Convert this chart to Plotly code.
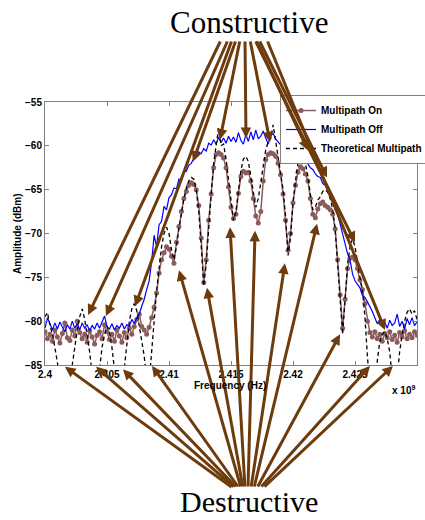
import numpy as np
import plotly.graph_objects as go

# ---------------- data ----------------
F_START_GHZ = 2.4
F_STEP_GHZ = 0.0002
N_POINTS = 151
freq_ghz = np.round(F_START_GHZ + F_STEP_GHZ * np.arange(N_POINTS), 4)

multipath_off = [
    -80.8, -79.6, -80.3, -81.0, -80.2, -80.9, -80.1, -80.7, -81.2, -80.4,
    -80.9, -80.0, -80.8, -80.3, -81.0, -80.2, -80.8, -80.4, -81.1, -80.5,
    -80.9, -80.2, -80.8, -80.1, -79.4, -80.6, -80.9, -80.3, -81.0, -80.5,
    -80.8, -80.2, -80.9, -80.4, -80.6, -79.8, -80.3, -79.6, -79.2, -78.3,
    -77.5, -76.4, -75.4, -73.2, -70.2, -71.5, -69.0, -68.6, -66.9, -67.3,
    -65.9, -65.6, -64.8, -64.9, -63.8, -63.9, -63.0, -62.9, -62.2, -62.0,
    -61.4, -61.3, -60.7, -60.9, -60.3, -60.6, -59.7, -59.9, -59.3, -59.8,
    -59.0, -59.6, -59.1, -59.7, -58.9, -59.5, -59.0, -59.6, -58.5, -59.4,
    -59.8, -58.7, -59.5, -58.4, -59.3, -58.2, -59.2, -58.9, -58.3, -59.1,
    -59.8, -58.8, -58.6, -59.2, -59.5, -59.9, -59.6, -60.2, -60.5, -60.3,
    -60.9, -61.3, -60.9, -61.5, -62.0, -61.6, -62.1, -62.5, -62.7, -63.2,
    -63.5, -63.6, -64.3, -64.5, -65.0, -66.0, -65.9, -67.2, -67.8, -68.9,
    -70.1, -71.0, -72.3, -73.0, -74.6, -75.4, -75.8, -76.2, -77.1, -77.3,
    -77.8, -78.3, -78.9, -79.6, -80.3, -79.8, -80.6, -80.1, -80.8, -79.9,
    -80.5, -80.2, -79.2, -80.6, -80.0, -80.9, -79.7, -80.4, -79.6, -80.5,
    -80.1,
]

theoretical = [
    -79.5, -79.0, -80.5, -81.5, -83.0, -84.5, -86.5, -88.5, -90.0, -89.0,
    -87.0, -84.5, -82.5, -81.0, -79.5, -78.6, -79.8, -81.5, -83.5, -86.0,
    -89.0, -88.0, -85.5, -83.0, -81.5, -80.6, -81.3, -83.0, -85.5, -88.0,
    -90.0, -88.0, -85.5, -82.5, -80.0, -78.6, -78.0, -78.8, -80.5, -82.5,
    -84.0, -86.5, -87.0, -83.5, -79.5, -76.5, -74.0, -71.5, -70.0, -69.3,
    -70.0, -71.8, -73.0, -71.5, -69.5, -67.5, -66.0, -64.8, -64.0, -63.6,
    -63.8, -65.0, -67.5, -71.5, -76.0, -73.5, -69.0, -65.5, -62.0, -60.0,
    -58.0, -60.0, -59.8, -61.5, -64.0, -66.5, -68.5, -67.5, -65.0, -62.8,
    -61.5, -61.2, -61.8, -63.5, -65.5, -67.0, -66.0, -64.0, -62.0, -60.5,
    -59.5, -59.2, -57.6, -59.5, -61.0, -62.8, -65.0, -68.0, -72.5, -70.5,
    -66.5, -64.0, -62.0, -61.0, -60.8, -62.0, -63.5, -65.5, -67.3, -67.0,
    -66.2, -65.8, -65.2, -65.0, -65.3, -66.0, -67.2, -69.5, -73.0, -77.5,
    -81.5, -77.5, -73.5, -71.5, -70.6, -71.5, -73.5, -75.0, -76.5, -79.5,
    -84.0, -87.5, -88.5, -87.0, -84.5, -82.3, -81.5, -81.2, -82.0, -83.5,
    -86.5, -89.0, -86.5, -83.5, -81.5, -80.0, -79.0, -78.6, -79.2, -78.8,
    -79.8,
]

multipath_on = [
    -81.2, -82.0, -81.5, -82.3, -81.0, -81.8, -82.5, -81.4, -80.2, -81.9,
    -82.2, -81.0, -81.7, -80.0, -81.3, -82.0, -81.5, -82.4, -81.1, -81.8,
    -82.6, -81.6, -81.2, -82.0, -80.4, -81.2, -82.1, -81.5, -82.3, -81.0,
    -81.7, -82.4, -81.3, -81.9, -80.8, -81.5, -80.6, -79.8, -79.2, -80.6,
    -81.0, -81.5, -80.7, -79.6, -78.4, -76.8, -74.5, -73.0, -72.2, -71.5,
    -71.8, -72.6, -73.4, -71.0, -69.2, -67.5, -66.0, -65.2, -64.5, -64.2,
    -64.4, -65.0, -66.8, -70.5, -75.6, -73.0, -68.5, -65.5, -62.5, -61.0,
    -60.8, -61.0, -61.4, -62.5, -64.7, -67.0, -68.3, -67.8, -65.4, -63.5,
    -62.9, -63.1, -63.0, -64.0, -66.0, -68.0, -68.8, -67.5, -64.0, -61.6,
    -61.0, -60.8, -60.9, -61.2, -62.0, -63.3, -65.5, -68.5, -71.9, -70.0,
    -66.5, -64.5, -63.0, -62.4, -62.6, -63.2, -64.0, -66.0, -67.8, -68.2,
    -67.2, -66.6, -66.4, -66.8, -67.0, -67.3, -67.8, -69.5, -73.0, -77.0,
    -80.8, -77.5, -74.0, -72.8, -72.7, -73.0, -74.0, -75.3, -76.4, -78.0,
    -80.0, -81.3, -81.8, -81.2, -82.0, -81.5, -82.3, -81.4, -81.9, -81.2,
    -82.1, -81.6, -82.4, -81.3, -81.8, -81.1, -82.0, -81.5, -81.9, -81.2,
    -81.6,
]

x_tick_vals = [2.4, 2.405, 2.41, 2.415, 2.42, 2.425, 2.43]
x_tick_text = ["2.4", "2.405", "2.41", "2.415", "2.42", "2.425", "2.43"]
y_tick_vals = [-85, -80, -75, -70, -65, -60, -55]

# arrow targets (data units): constructive peaks and destructive nulls
peak_ghz = [2.40347, 2.40492, 2.40726, 2.41194, 2.41411, 2.41621, 2.41815,
            2.42121, 2.42274, 2.42500, 2.42742]
peak_dbm = [-79.3, -79.4, -78.3, -61.8, -59.3, -59.1, -59.6,
            -60.5, -63.6, -71.0, -81.0]
null_ghz = [2.40161, 2.40411, 2.40629, 2.40863, 2.41081, 2.41306, 2.41492,
            2.41694, 2.41935, 2.42194, 2.42379, 2.42621, 2.42806]
null_dbm = [-85.2, -85.2, -85.5, -85.1, -74.2, -76.2, -69.3,
            -69.7, -73.4, -68.9, -81.5, -85.1, -85.1]

# ---------------- layout constants ----------------
W, H = 425, 520
ML, MR, MT, MB = 45, 8, 102, 155
PW, PH = W - ML - MR, H - MT - MB
XR = [2.4, 2.43]
YR = [-85, -55]
BROWN = "#6E3B0C"
ON_COLOR = "#8C5C5C"
AXIS_GRAY = "#7F7F7F"
SANS = "Liberation Sans"
SERIF = "Liberation Serif"

# tails of the arrow fans (figure pixels)
con_tail_x = [221, 228, 232, 236, 240, 245, 250, 256, 259, 255, 267]
con_tail_y = 40
des_tail_x = [233, 235, 237, 239, 241, 243, 245, 248, 251, 254, 257, 260, 263]
des_tail_y = 488

fig = go.Figure()
fig.add_trace(go.Scatter(
    x=freq_ghz, y=multipath_on, mode="lines+markers", name="Multipath On",
    line=dict(color=ON_COLOR, width=1.5),
    marker=dict(color=ON_COLOR, size=5, symbol="circle"),
))
fig.add_trace(go.Scatter(
    x=freq_ghz, y=multipath_off, mode="lines", name="Multipath Off",
    line=dict(color="#0000FF", width=1.2),
))
fig.add_trace(go.Scatter(
    x=freq_ghz, y=theoretical, mode="lines", name="Theoretical Multipath",
    line=dict(color="black", width=1.3, dash="4px,3px"),
))


def to_px(f, db):
    px = ML + (f - XR[0]) / (XR[1] - XR[0]) * PW
    py = MT + (YR[1] - db) / (YR[1] - YR[0]) * PH
    return px, py


annotations = []


def add_arrow(f, db, tx, ty):
    hx, hy = to_px(f, db)
    annotations.append(dict(
        x=(hx - ML) / PW, y=1 - (hy - MT) / PH, xref="paper", yref="paper",
        ax=tx - hx, ay=ty - hy, axref="pixel", ayref="pixel",
        text="", showarrow=True, arrowhead=2, arrowsize=0.7, arrowwidth=3,
        arrowcolor=BROWN, standoff=0, startstandoff=0,
    ))


for f, db, tx in zip(peak_ghz, peak_dbm, con_tail_x):
    add_arrow(f, db, tx, con_tail_y)
for f, db, tx in zip(null_ghz, null_dbm, des_tail_x):
    add_arrow(f, db, tx, des_tail_y)


def px_to_paper(px, py):
    return (px - ML) / PW, 1 - (py - MT) / PH


cx, cy = px_to_paper(249, 22)
annotations.append(dict(x=cx, y=cy, xref="paper", yref="paper", text="Constructive",
                        showarrow=False, font=dict(family=SERIF, size=31, color="black"),
                        xanchor="center", yanchor="middle"))
dx, dy = px_to_paper(249, 501)
annotations.append(dict(x=dx, y=dy, xref="paper", yref="paper", text="Destructive",
                        showarrow=False, font=dict(family=SERIF, size=30, color="black"),
                        xanchor="center", yanchor="middle"))
fx, fy = px_to_paper(230, 385)
annotations.append(dict(x=fx, y=fy, xref="paper", yref="paper", text="Frequency (Hz)",
                        showarrow=False, font=dict(family=SANS, size=10, color="black", weight="bold"),
                        xanchor="center", yanchor="middle"))
ax_, ay_ = px_to_paper(18, 233)
annotations.append(dict(x=ax_, y=ay_, xref="paper", yref="paper", text="Amplitude (dBm)",
                        showarrow=False, textangle=-90,
                        font=dict(family=SANS, size=10, color="black", weight="bold"),
                        xanchor="center", yanchor="middle"))
ex, ey = px_to_paper(403, 390)
annotations.append(dict(x=ex, y=ey, xref="paper", yref="paper", text="x 10<sup>9</sup>",
                        showarrow=False, font=dict(family=SANS, size=10, color="black", weight="bold"),
                        xanchor="center", yanchor="middle"))

lx, ly = px_to_paper(280, 95)

axis_common = dict(
    showline=True, linecolor=AXIS_GRAY, linewidth=1, mirror="ticks",
    ticks="inside", ticklen=4, tickcolor=AXIS_GRAY, showgrid=False, zeroline=False,
    tickfont=dict(family=SANS, size=10, color="black", weight="bold"),
)

fig.update_layout(
    width=W, height=H,
    margin=dict(l=ML, r=MR, t=MT, b=MB, autoexpand=False),
    paper_bgcolor="white", plot_bgcolor="white",
    xaxis=dict(range=XR, tickvals=x_tick_vals, ticktext=x_tick_text, **axis_common),
    yaxis=dict(range=YR, tickvals=y_tick_vals, **axis_common),
    legend=dict(x=lx, y=ly, xanchor="left", yanchor="top", bgcolor="white",
                bordercolor=AXIS_GRAY, borderwidth=1,
                font=dict(family=SANS, size=10, color="black", weight="bold"),
                itemwidth=30, tracegroupgap=0),
    annotations=annotations,
    showlegend=True,
)

fig.write_html("out.html")
